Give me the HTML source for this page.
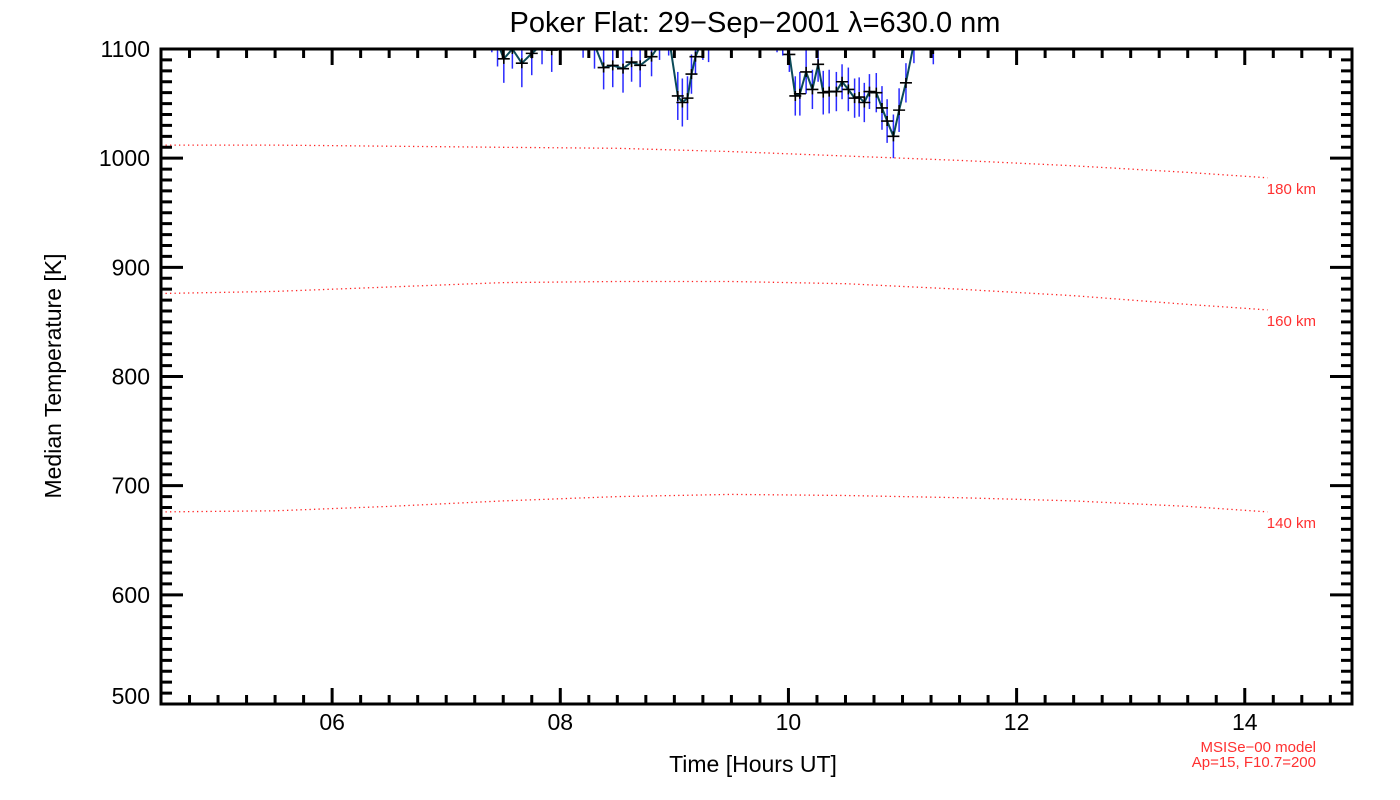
<!DOCTYPE html>
<html><head><meta charset="utf-8"><style>
html,body{margin:0;padding:0;background:#fff;}
svg{display:block;font-family:"Liberation Sans",sans-serif;}
</style></head><body>
<svg id="chart" width="1400" height="800" viewBox="0 0 1400 800" xmlns="http://www.w3.org/2000/svg">
<defs><clipPath id="plotclip"><rect x="161" y="49" width="1191" height="655"/></clipPath></defs>
<text x="755" y="32" font-size="29" text-anchor="middle">Poker Flat: 29−Sep−2001 λ=630.0 nm</text>
<text transform="translate(61,376) rotate(-90)" font-size="23" text-anchor="middle">Median Temperature [K]</text>
<text x="753" y="772" font-size="23" text-anchor="middle">Time [Hours UT]</text>
<g fill="#ff3030" font-size="15" text-anchor="end">
<text x="1316" y="752">MSISe−00 model</text>
<text x="1316" y="767">Ap=15, F10.7=200</text>
</g>
<g id="model" clip-path="url(#plotclip)"></g>
<g id="data" clip-path="url(#plotclip)"></g>
<g id="axes"></g>
</svg>
<script>
const xMin=4.5, xMax=14.94, yMin=500, yMax=1100;
const X0=161, X1=1352, Y0=704, Y1=49;
function sx(h){return X0+(h-xMin)/(xMax-xMin)*(X1-X0);}
function sy(t){return Y0-(t-yMin)/(yMax-yMin)*(Y0-Y1);}

const xTickLabels=["06","08","10","12","14"];
const xTickValues=[6,8,10,12,14];
const yTickValues=[500,600,700,800,900,1000,1100];

// observed data
const times=[7.40,7.45,7.505,7.58,7.663,7.75,7.84,7.925,8.0,8.1,8.2,8.3,8.38,8.46,8.55,8.625,8.70,8.80,8.87,8.95,9.03,9.07,9.115,9.15,9.185,9.25,9.3,9.9,9.95,10.008,10.06,10.10,10.155,10.21,10.26,10.305,10.357,10.42,10.47,10.525,10.58,10.62,10.665,10.71,10.77,10.82,10.865,10.92,10.97,11.03,11.1,11.2,11.27,13.25];
const temps=[1115,1106,1091,1100,1087,1096,1104,1099,1112,1118,1110,1104,1083,1085,1082,1088,1085,1093,1104,1112,1057,1051,1055,1077,1093,1110,1108,1115,1110,1095,1057,1059,1079,1063,1086,1060,1061,1061,1070,1063,1055,1056,1051,1061,1060,1046,1034,1020,1044,1069,1105,1118,1100,1115];
const errs=[18,22,22,18,22,20,18,20,18,16,18,22,20,20,22,18,20,18,14,18,22,22,20,18,16,20,20,18,16,16,18,20,20,18,16,20,20,18,16,20,18,18,18,16,18,20,20,20,20,18,18,16,14,22];

// MSIS model curves
const modelTimes=[4.5,5.5,6.5,7.5,8.5,9.5,10.5,11.5,12.5,13.5,14.2];
const model180=[1012,1012,1011,1010,1009,1006,1002,998,993,987,982];
const model160=[876,878,882,886,887,887,885,880,874,866,861];
const model140=[676,677,681,686,690,692,691,689,686,681,676];
const modelLabels=["180 km","160 km","140 km"];

const NS="http://www.w3.org/2000/svg";
function mk(tag,attrs,parent){const e=document.createElementNS(NS,tag);for(const k in attrs)e.setAttribute(k,attrs[k]);parent.appendChild(e);return e;}

const gm=document.getElementById('model');
[model180,model160,model140].forEach((arr,i)=>{
  const d=arr.map((t,j)=>(j?'L':'M')+sx(modelTimes[j]).toFixed(1)+' '+sy(t).toFixed(1)).join(' ');
  const p=mk('path',{d:d,fill:'none',stroke:'#ff2020','stroke-width':1.3,'stroke-dasharray':'1.3 3.2'},gm);
  
  
  const last=arr[arr.length-1];
  const t=mk('text',{x:1316,y:sy(last)+16,'font-size':15,fill:'#ff3030','text-anchor':'end'},document.getElementById('chart'));
  t.textContent=modelLabels[i];
  
  
});

const gd=document.getElementById('data');
for(let i=0;i<times.length;i++){
  const x=sx(times[i]);
  const eb=mk('line',{x1:x,x2:x,y1:sy(temps[i]-errs[i]),y2:sy(temps[i]+errs[i]),stroke:'#2a2aff','stroke-width':1.5},gd);
  
  
}
const segs=[[0,28],[29,52],[53,53]];
segs.forEach(([a,b])=>{
  let d='';
  for(let i=a;i<=b;i++)d+=(i>a?'L':'M')+sx(times[i]).toFixed(1)+' '+sy(temps[i]).toFixed(1);
  const p=mk('path',{d:d,fill:'none',stroke:'#0b4a58','stroke-width':2},gd);
  
  
});
for(let i=0;i<times.length;i++){
  const x=sx(times[i]),y=sy(temps[i]);
  const c=mk('path',{d:`M${x-6} ${y}H${x+6}M${x} ${y-5}V${y+5}`,stroke:'#000','stroke-width':1.6},gd);
  
  
}

const ga=document.getElementById('axes');
const frame=mk('rect',{x:X0,y:Y1,width:X1-X0,height:Y0-Y1,fill:'none',stroke:'#000','stroke-width':3},ga);


let td='';
for(let h=4.5;h<=xMax+1e-6;h+=0.25){
  const x=sx(h), major=Math.abs(h-Math.round(h))<1e-6 && Math.round(h)%2===0;
  const L=major?16:9;
  td+=`M${x} ${Y0}V${Y0-L}M${x} ${Y1}V${Y1+L}`;
}
for(let t=yMin;t<=yMax;t+=10){
  const y=sy(t), major=t%100===0;
  const L=major?22:11;
  td+=`M${X0} ${y}H${X0+L}M${X1} ${y}H${X1-L}`;
}
const ticks=mk('path',{d:td,stroke:'#000','stroke-width':3,fill:'none'},ga);


xTickValues.forEach((v,i)=>{
  const t=mk('text',{x:sx(v),y:730,'font-size':23,'text-anchor':'middle'},ga);
  t.textContent=xTickLabels[i];
  
  
});
yTickValues.forEach(v=>{
  const t=mk('text',{x:150,y:sy(v)+(v===500?0:8),'font-size':23,'text-anchor':'end'},ga);
  t.textContent=v;
  
  
});
</script>
</body></html>
